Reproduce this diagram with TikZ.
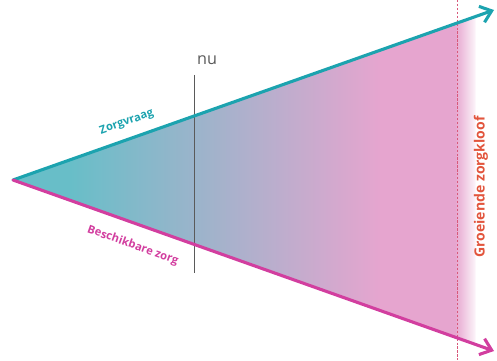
\documentclass[tikz,border=0pt]{standalone}
\usepackage{fontspec}
\setmainfont{Open Sans}
\usetikzlibrary{arrows.meta, positioning, calc}
\definecolor{vraagteal}{HTML}{1CA3AF}
\definecolor{zorgpink}{HTML}{D23E9F}
\definecolor{fillteal}{HTML}{68BEC8}
\definecolor{fillpink}{HTML}{E6A5CF}
\definecolor{kloofred}{HTML}{E2553D}
\definecolor{kloofline}{HTML}{D8587A}
\definecolor{nugray}{HTML}{5A5A5A}

\begin{document}
\begin{tikzpicture}[
  x=0.025cm, y=-0.025cm,
  >={Straight Barb[length=7.5pt, width=12pt]},
  axisline/.style={->, line width=2.2pt, line cap=round},
  linelabel/.style={font=\fontsize{8}{9}\selectfont\bfseries, sloped},
]

\useasboundingbox (0,0) rectangle (497,360);

% Points of the wedge
\coordinate (apex) at (13,180);
\coordinate (vraagend) at (494,10);
\coordinate (zorgend) at (494,351);

% Coloured fill (teal to pink, fading out past the gap line)
\begin{scope}
  \clip (apex) -- ($(apex)!0.962!(vraagend)$) -- ($(apex)!0.962!(zorgend)$) -- cycle;
  \fill[fillteal] (10,0) rectangle (71,360);
  \shade[left color=fillteal, right color=fillpink] (70,0) rectangle (381,360);
  \fill[fillpink] (380,0) rectangle (456,360);
  \shade[left color=fillpink, right color=white] (455,0) rectangle (478,360);
\end{scope}

% Gap line
\coordinate (klooftop) at (457,0);
\coordinate (kloofbottom) at (457,360);
\draw[kloofline, line width=0.5pt, dash pattern=on 1.6pt off 1.2pt] (klooftop) -- (kloofbottom);

% Now
\node[font=\fontsize{11.5}{12}\selectfont, text=nugray, inner sep=0pt] (nu) at (207,60.5) {nu};
\coordinate (nutop) at (194,75);
\coordinate (nubottom) at (194,273);
\draw[nugray, line width=0.6pt] (nutop) -- (nubottom);

% Demand and supply lines
\draw[axisline, vraagteal] (apex) -- (vraagend)
  node[linelabel, text=vraagteal, pos=0.248, above=3.5pt] (vraag) {Zorgvraag};
\draw[axisline, zorgpink] (apex) -- (zorgend)
  node[linelabel, text=zorgpink, pos=0.264, below=7pt] (zorg) {Beschikbare zorg};

% Gap label
\node[font=\fontsize{10}{11}\selectfont\bfseries, text=kloofred, rotate=90] (kloof) at (481,187)
  {Groeiende zorgkloof};

\end{tikzpicture}
\end{document}
